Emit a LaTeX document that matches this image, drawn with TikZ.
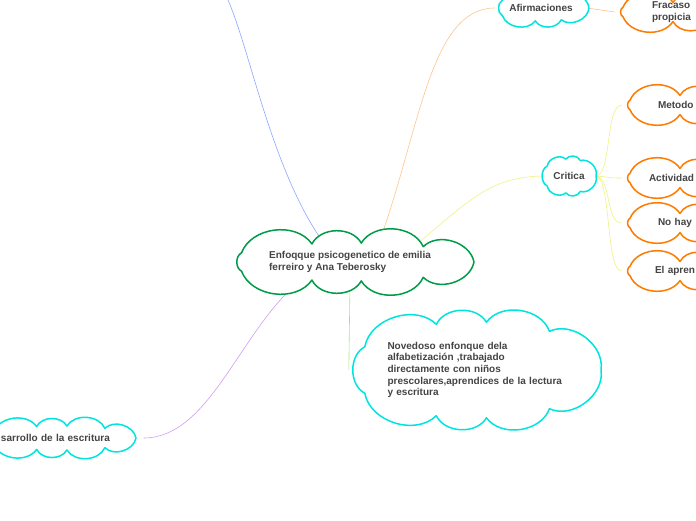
\documentclass[tikz,border=0pt]{standalone}
\usepackage{fontspec}
\setmainfont{Liberation Sans}
\usetikzlibrary{shapes.geometric, calc, backgrounds}
\definecolor{verde}{RGB}{0,155,72}
\definecolor{cian}{RGB}{0,228,222}
\definecolor{naranja}{RGB}{255,122,0}
\definecolor{texto}{RGB}{68,68,68}
\definecolor{ramaazul}{RGB}{140,165,255}
\definecolor{ramanaranja}{RGB}{255,196,138}
\definecolor{ramaamarilla}{RGB}{238,242,128}
\definecolor{ramaverde}{RGB}{168,230,122}
\definecolor{ramamorada}{RGB}{210,156,245}

% nube: nodo, color, radio x, radio y, numero de bultos
\newcommand{\nube}[5]{%
  \draw[line width=1.5pt, draw=#2, fill=white, line join=round]
    ($(#1.center)+(0:#3 and #4)$)
    \foreach \k [evaluate=\k as \t using {360*\k/#5+14*sin(720*\k/#5)}] in {1,...,#5} {
      to[bend left=62] ($(#1.center)+(\t:#3 and #4)$)
    };
}

\begin{document}
\begin{tikzpicture}[x=1pt, y=-1pt,
    nodo/.style={ellipse, inner sep=0pt, font=\fontsize{10}{12}\selectfont\bfseries, text=texto, align=left},
    hoja/.style={nodo, minimum width=170pt, minimum height=24pt, text width=#1},
    rama/.style={line width=0.6pt}
]
\useasboundingbox (0,0) rectangle (696,520);

% ========== NODO CENTRAL ==========
\node[nodo, minimum width=248pt, minimum height=42pt] (enfoque) at (350,262) {Enfoqque psicogenetico de emilia\\ ferreiro y Ana Teberosky};

% ========== IDEAS ==========
\node[nodo, minimum width=252pt, minimum height=100pt, text width=175pt, font=\fontsize{10}{11.6}\selectfont\bfseries] (novedoso) at (475,370) {Novedoso enfonque dela\\ alfabetización ,trabajado\\ directamente con niños\\ prescolares,aprendices de la lectura\\ y escritura};
\node[nodo, minimum width=92pt, minimum height=28pt] (afirmaciones) at (541,8) {Afirmaciones};
\node[nodo, minimum width=52pt, minimum height=36pt] (critica) at (569,176) {Critica};
\node[nodo, minimum width=152pt, minimum height=26pt, text width=118pt] (desarrollo) at (60,438) {sarrollo de la escritura};
\coordinate (arriba) at (228,0);

% ========== HOJAS ==========
\node[hoja=96pt] (fracaso) at (700,12) {Fracaso\\ propicia};
\node[hoja=98pt] (metodo) at (707,105) {Metodo};
\node[hoja=116pt] (actividad) at (707,178) {Actividad};
\node[hoja=98pt] (nohay) at (707,223) {No hay};
\node[hoja=104pt] (aprende) at (707,271) {El apren};

\begin{scope}[on background layer]
% ========== RAMAS ==========
\draw[rama, ramaazul] (enfoque.143) .. controls (272,170) and (250,50) .. (arriba);
\draw[rama, ramanaranja] (enfoque.35) .. controls (420,130) and (430,8) .. (afirmaciones.west);
\draw[rama, ramanaranja] (afirmaciones.east) -- (fracaso.west);
\draw[rama, ramaamarilla] (enfoque.15) .. controls (470,200) and (490,177) .. (critica.west);
\draw[rama, ramaverde] (enfoque.south) -- (novedoso.west);
\draw[rama, ramamorada] (enfoque.201) .. controls (240,330) and (210,438) .. (desarrollo.east);
\foreach \h in {metodo, actividad, nohay, aprende}
  \draw[rama, ramaamarilla] (critica.east) .. controls (612,177) and (605,0|-\h.west) .. (\h.west);

% ========== NUBES ==========
\nube{enfoque}{verde}{124}{19}{9}
\nube{novedoso}{cian}{126}{48}{9}
\nube{afirmaciones}{cian}{48}{13}{7}
\nube{critica}{cian}{27}{17}{7}
\nube{desarrollo}{cian}{76}{12}{9}
\foreach \h in {fracaso, metodo, actividad, nohay, aprende}
  {\nube{\h}{naranja}{88}{10}{9}}
\end{scope}

\end{tikzpicture}
\end{document}
